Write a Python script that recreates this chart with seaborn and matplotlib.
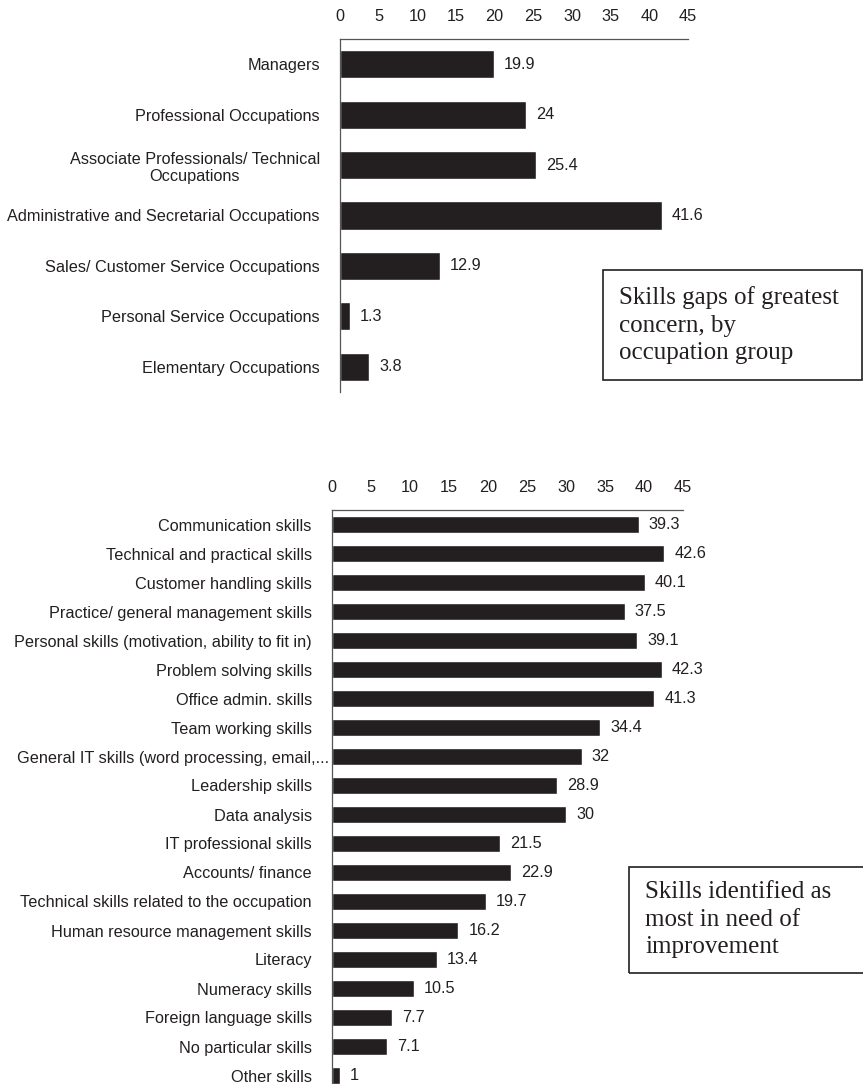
import matplotlib
matplotlib.use("Agg")
import matplotlib.pyplot as plt
import matplotlib.transforms as mtransforms
from matplotlib.patches import Rectangle
import seaborn as sns
import pandas as pd
import numpy as np

occupations = [
    "Managers",
    "Professional Occupations",
    "Associate Professionals/ Technical\nOccupations",
    "Administrative and Secretarial Occupations",
    "Sales/ Customer Service Occupations",
    "Personal Service Occupations",
    "Elementary Occupations",
]
occupation_values = [19.9, 24, 25.4, 41.6, 12.9, 1.3, 3.8]

skills = [
    "Communication skills",
    "Technical and practical skills",
    "Customer handling skills",
    "Practice/ general management skills",
    "Personal skills (motivation, ability to fit in)",
    "Problem solving skills",
    "Office admin. skills",
    "Team working skills",
    "General IT skills (word processing, email,...",
    "Leadership skills",
    "Data analysis",
    "IT professional skills",
    "Accounts/ finance",
    "Technical skills related to the occupation",
    "Human resource management skills",
    "Literacy",
    "Numeracy skills",
    "Foreign language skills",
    "No particular skills",
    "Other skills",
]
skill_values = [39.3, 42.6, 40.1, 37.5, 39.1, 42.3, 41.3, 34.4, 32, 28.9,
                30, 21.5, 22.9, 19.7, 16.2, 13.4, 10.5, 7.7, 7.1, 1]

x_ticks = [0, 5, 10, 15, 20, 25, 30, 35, 40, 45]

sns.set_style("white")
plt.rcParams["font.family"] = ["Liberation Sans", "DejaVu Sans"]

W, H = 863, 1084
fig = plt.figure(figsize=(W / 100, H / 100), dpi=100)

BAR = "#231f20"
FS = 11.7


def px_axes(x0, y0, x1, y1):
    return fig.add_axes([x0 / W, 1 - y1 / H, (x1 - x0) / W, (y1 - y0) / H])


def style_axis(ax, labels, values, width):
    df = pd.DataFrame({"cat": labels, "val": values})
    sns.barplot(data=df, x="val", y="cat", orient="h", color=BAR,
                saturation=1, width=width, ax=ax)
    n = len(labels)
    ax.set_xlim(0, 45)
    ax.set_ylim(n - 0.5, -0.5)
    ax.set_xticks(x_ticks)
    ax.set_xticklabels([str(t) for t in x_ticks], fontsize=FS)
    ax.xaxis.set_ticks_position("top")
    ax.xaxis.set_label_position("top")
    ax.tick_params(axis="x", length=0, pad=11, colors="#231f20")
    ax.tick_params(axis="y", which="major", length=0, pad=14.5,
                   labelsize=FS, colors="#231f20")
    ax.set_yticks(np.arange(n - 1) + 0.5, minor=True)
    ax.tick_params(axis="y", which="minor", length=5, width=0.9,
                   color="#555555", direction="out")
    for lab in ax.get_yticklabels():
        lab.set_horizontalalignment("right")
        lab.set_multialignment("center")
    ax.set_xlabel("")
    ax.set_ylabel("")
    for s in ["right", "bottom"]:
        ax.spines[s].set_visible(False)
    for s in ["top", "left"]:
        ax.spines[s].set_color("#555555")
        ax.spines[s].set_linewidth(0.9)
    for i, v in enumerate(values):
        ax.text(v + 1.3, i, f"{v:g}", va="center", ha="left",
                fontsize=FS, color="#231f20")


ax1 = px_axes(340, 39, 688, 392)
style_axis(ax1, occupations, occupation_values, 0.56)

ax2 = px_axes(332, 510, 683, 1090)
style_axis(ax2, skills, skill_values, 0.62)

# the clipped label runs right up to the axis line
shift = mtransforms.ScaledTranslation(17 / 100, 0, fig.dpi_scale_trans)
for lab in ax2.get_yticklabels():
    if lab.get_text().endswith("..."):
        lab.set_transform(lab.get_transform() + shift)


def note_box(x0, y0, x1, y1, text, tx, ty):
    fig.patches.append(Rectangle((x0 / W, 1 - y1 / H), (x1 - x0) / W,
                                 (y1 - y0) / H, transform=fig.transFigure,
                                 fill=False, edgecolor="#231f20",
                                 linewidth=1.2))
    fig.text(tx / W, 1 - ty / H, text, family="Liberation Serif",
             fontsize=18, color="#231f20", ha="left", va="top",
             linespacing=1.33)


note_box(603, 270, 862, 380,
         "Skills gaps of greatest\nconcern, by\noccupation group", 619, 286)
note_box(629, 867, 870, 973,
         "Skills identified as\nmost in need of\nimprovement", 645, 881)

fig.savefig("out.png", dpi=100)
